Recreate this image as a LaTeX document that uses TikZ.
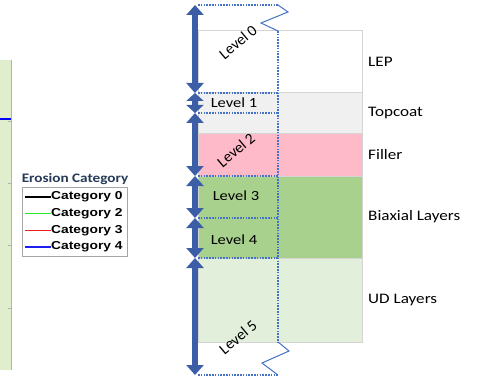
\documentclass[tikz,border=0pt]{standalone}
\usepackage{fontspec}
\setmainfont{Carlito}
\newfontfamily\legendfont{Liberation Sans}
\usetikzlibrary{arrows.meta,positioning}

\definecolor{arrowblue}{RGB}{59,94,166}
\definecolor{dotblue}{RGB}{68,114,196}
\definecolor{layergray}{RGB}{212,212,212}
\definecolor{topcoatgray}{RGB}{240,240,240}
\definecolor{fillerpink}{RGB}{255,186,201}
\definecolor{biaxgreen}{RGB}{169,209,142}
\definecolor{udgreen}{RGB}{226,239,218}
\definecolor{plotgreen}{RGB}{224,238,206}
\definecolor{titleblue}{RGB}{38,58,88}
\definecolor{catzero}{RGB}{0,0,0}
\definecolor{cattwo}{RGB}{40,230,40}
\definecolor{catthree}{RGB}{240,30,30}
\definecolor{catfour}{RGB}{30,30,240}

\begin{document}
\begin{tikzpicture}[x=1pt,y=-1pt,
    layer/.style={draw=layergray, line width=1pt, minimum width=164pt, inner sep=0pt, outer sep=0pt},
    layertext/.style={font=\fontsize{14.5}{16}\selectfont, xscale=1.18, inner sep=0pt},
    levelbox/.style={minimum width=80pt, inner sep=0pt, outer sep=0pt},
    leveltext/.style={font=\fontsize{14}{16}\selectfont, xscale=1.18, inner sep=0pt},
    levelrot/.style={font=\fontsize{15.5}{17}\selectfont, rotate=40, inner sep=0pt},
    levelline/.style={dotblue, line width=1.2pt, dash pattern=on 1.6pt off 1.2pt},
    zigline/.style={dotblue, line width=1pt},
    levelarrow/.style={arrowblue, line width=6pt,
        {Triangle[width=17pt,length=10pt]}-{Triangle[width=17pt,length=10pt]}},
    shortarrow/.style={arrowblue, line width=6pt,
        {Triangle[width=17pt,length=8pt]}-{Triangle[width=17pt,length=8pt]}},
    entry/.style={font=\legendfont\bfseries\fontsize{11.5}{13}\selectfont, xscale=1.2, inner sep=0pt, anchor=west}]

    \useasboundingbox (0,0) rectangle (479,377);

    % plot strip on the left
    \node[fill=plotgreen, inner sep=0pt, anchor=north east, minimum width=12pt, minimum height=310pt] (plot) at (11,60) {};
    \draw[gray!60, line width=0.8pt] (plot.north east) -- (plot.south east);
    \foreach \y in {121,183,245,308}
        \draw[gray!60, line width=0.8pt] (8,\y) -- (11,\y);
    \draw[blue, line width=1.2pt] (0,119) -- (11,119);

    % legend
    \node[font=\bfseries\fontsize{13}{15}\selectfont, text=titleblue, xscale=1.17, inner sep=0pt] (legtitle) at (75,179) {Erosion Category};
    \node[draw=gray!70, line width=1pt, fill=white, anchor=north west, minimum width=105pt, minimum height=69pt] (legbox) at (22,187) {};
    \foreach \cat/\catcolor [count=\i from 0] in {0/catzero,2/cattwo,3/catthree,4/catfour} {
        \node[entry] (cat\cat) at (51,197+16.7*\i) {Category \cat};
        \draw[draw=\catcolor, line width=1.5pt] ([xshift=-26pt]cat\cat.west) -- (cat\cat.west);
    }

    % layers of the laminate
    \node[layer, fill=white, minimum height=62pt, anchor=north west] (lep) at (198,31) {};
    \node[layer, fill=topcoatgray, minimum height=41pt, below=0pt of lep] (topcoat) {};
    \node[layer, fill=fillerpink, minimum height=42pt, below=0pt of topcoat] (filler) {};
    \node[layer, fill=biaxgreen, minimum height=82pt, below=0pt of filler] (biax) {};
    \node[layer, fill=udgreen, minimum height=84pt, below=0pt of biax] (ud) {};

    \node[layertext, right=6pt of lep] {LEP};
    \node[layertext, right=6pt of topcoat] {Topcoat};
    \node[layertext, right=6pt of filler] {Filler};
    \node[layertext, right=6pt of biax] {Biaxial Layers};
    \node[layertext, right=6pt of ud] {UD Layers};

    % levels
    \node[levelbox, minimum height=88pt, anchor=north west] (lv0) at (198,5) {};
    \node[levelbox, minimum height=20pt, below=0pt of lv0] (lv1) {};
    \node[levelbox, minimum height=63pt, below=0pt of lv1] (lv2) {};
    \node[levelbox, minimum height=42pt, below=0pt of lv2] (lv3) {};
    \node[levelbox, minimum height=40pt, below=0pt of lv3] (lv4) {};
    \node[levelbox, minimum height=117pt, below=0pt of lv4] (lv5) {};

    \coordinate (zt1) at (288,12);
    \coordinate (zt2) at (261,23);
    \coordinate (zt3) at (278,31);
    \coordinate (zb0) at (278,342);
    \coordinate (zb1) at (289,351);
    \coordinate (zb2) at (262,363);

    \foreach \n in {lv0,lv1,lv2,lv3,lv4,lv5}
        \draw[levelline] (\n.north west) -- (\n.north east);
    \draw[levelline] (lv5.south west) -- (lv5.south east);
    \draw[levelline] (zt3) -- (zb0);
    \draw[zigline] (lv0.north east) -- (zt1) -- (zt2) -- (zt3);
    \draw[zigline] (zb0) -- (zb1) -- (zb2) -- (lv5.south east);

    \foreach \n in {lv0,lv2,lv3,lv4,lv5}
        \draw[levelarrow] ([xshift=-3pt]\n.north west) -- ([xshift=-3pt]\n.south west);
    \draw[shortarrow] ([xshift=-3pt]lv1.north west) -- ([xshift=-3pt]lv1.south west);

    \node[levelrot] (t0) at (238,42) {Level 0};
    \node[leveltext] (t1) at ([xshift=-4pt]lv1.center) {Level 1};
    \node[levelrot] (t2) at (236,150) {Level 2};
    \node[leveltext] (t3) at ([xshift=-2pt,yshift=1pt]lv3.center) {Level 3};
    \node[leveltext] (t4) at ([xshift=-4pt,yshift=-2pt]lv4.center) {Level 4};
    \node[levelrot] (t5) at (238,337) {Level 5};
\end{tikzpicture}
\end{document}
